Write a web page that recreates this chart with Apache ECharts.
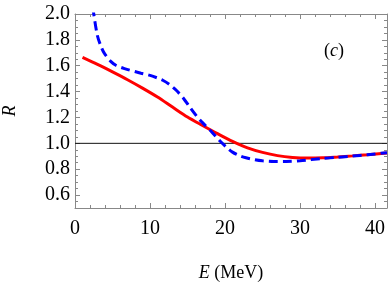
<!DOCTYPE html>
<html>
<head>
<meta charset="utf-8">
<script src="https://cdn.jsdelivr.net/npm/echarts@6/dist/echarts.min.js"></script>
<style>html,body{margin:0;padding:0;background:#fff;}#c{width:392px;height:284px;}</style>
</head>
<body>
<div id="c"></div>
<script>
const xMin = 0, xMax = 41.6, yMin = 0.5, yMax = 2.0;
const yTickLabels = [0.6, 0.8, 1.0, 1.2, 1.4, 1.6, 1.8, 2.0];
const redSolid = [[1, 1.665], [3, 1.61], [5, 1.552], [7, 1.492], [9, 1.427], [11, 1.358], [13, 1.28], [15, 1.203], [17, 1.138], [19, 1.075], [21, 1.015], [23, 0.965], [25, 0.93], [27, 0.905], [29, 0.891], [31, 0.886], [33, 0.888], [35, 0.895], [37, 0.903], [39, 0.912], [41.6, 0.925]];
const blueDashed = [[2.42, 2.05], [2.5, 2.0], [3.0, 1.83], [3.5, 1.745], [3.9, 1.697], [4.8, 1.632], [5.5, 1.602], [6.6, 1.578], [8.8, 1.542], [9.9, 1.527], [11, 1.505], [11.7, 1.488], [12.6, 1.455], [13.5, 1.41], [14.5, 1.345], [15.3, 1.28], [16.2, 1.212], [17, 1.16], [18.2, 1.09], [19.3, 1.02], [20.2, 0.97], [21, 0.932], [22, 0.903], [22.8, 0.888], [24, 0.873], [25, 0.865], [26.5, 0.86], [28.2, 0.86], [30, 0.865], [31.5, 0.874], [33, 0.883], [35, 0.892], [37, 0.902], [39, 0.912], [41.6, 0.928]];
const unityLine = [[xMin, 1.0], [xMax, 1.0]];

const F = 'Liberation Serif';
const frame = '#888888';
const chart = echarts.init(document.getElementById('c'), null, {renderer: 'canvas'});
function yMinorTicks() { const a = []; for (let v = 0.5; v <= 2.0001; v += 0.05) a.push(+v.toFixed(2)); return a; }
const yAxisBase = {type: 'value', min: yMin, max: yMax, splitLine: {show: false}};
chart.setOption({
  animation: false,
  grid: {left: 75, right: 5, top: 14, bottom: 76, containLabel: false, outerBoundsMode: 'none'},
  xAxis: [
    {type: 'value', min: xMin, max: xMax, interval: 10, position: 'bottom',
     axisLine: {lineStyle: {color: frame, width: 1}},
     axisTick: {inside: true, length: 5, lineStyle: {color: frame}},
     minorTick: {show: true, splitNumber: 5, length: 3, lineStyle: {color: frame}},
     axisLabel: {color: '#000', fontFamily: F, fontSize: 20, margin: 11, showMaxLabel: false,
                 formatter: v => (Math.abs(v - Math.round(v)) < 1e-6 && v % 10 === 0) ? String(v) : ''},
     splitLine: {show: false},
     name: '{i|E} (MeV)', nameLocation: 'middle', nameGap: 56,
     nameTextStyle: {color: '#000', fontFamily: F, fontSize: 18, rich: {i: {fontStyle: 'italic', fontFamily: F, fontSize: 18}}}},
    {type: 'value', min: xMin, max: xMax, interval: 10, position: 'top',
     axisLine: {lineStyle: {color: frame, width: 1}},
     axisTick: {inside: true, length: 5, lineStyle: {color: frame}},
     minorTick: {show: true, splitNumber: 5, length: 3, lineStyle: {color: frame}},
     axisLabel: {show: false}, splitLine: {show: false}}
  ],
  yAxis: [
    Object.assign({}, yAxisBase, {position: 'left',
      axisLine: {show: true, lineStyle: {color: frame, width: 1}},
      axisTick: {inside: true, length: 5, customValues: yTickLabels, lineStyle: {color: frame}},
      axisLabel: {customValues: yTickLabels, color: '#000', fontFamily: F, fontSize: 20, margin: 5,
                  formatter: v => v.toFixed(1)},
      name: 'R', nameLocation: 'middle', nameGap: 56, nameRotate: 90,
      nameTextStyle: {color: '#000', fontFamily: F, fontSize: 18, fontStyle: 'italic'}}),
    Object.assign({}, yAxisBase, {position: 'left',
      axisLine: {show: false},
      axisTick: {inside: true, length: 3, customValues: yMinorTicks(), lineStyle: {color: frame}},
      axisLabel: {show: false}}),
    Object.assign({}, yAxisBase, {position: 'right',
      axisLine: {show: true, lineStyle: {color: frame, width: 1}},
      axisTick: {inside: true, length: 5, customValues: yTickLabels, lineStyle: {color: frame}},
      axisLabel: {show: false}}),
    Object.assign({}, yAxisBase, {position: 'right',
      axisLine: {show: false},
      axisTick: {inside: true, length: 3, customValues: yMinorTicks(), lineStyle: {color: frame}},
      axisLabel: {show: false}})
  ],
  graphic: [
    {type: 'text', left: 324, top: 42, style: {text: '({i|c})', fill: '#000', font: '18px "Liberation Serif"',
      rich: {i: {fontStyle: 'italic', fontFamily: F, fontSize: 18}}}}
  ],
  series: [
    {type: 'line', data: unityLine, symbol: 'none', xAxisIndex: 0, yAxisIndex: 0,
     lineStyle: {color: '#111', width: 1}, z: 1},
    {type: 'line', data: redSolid, symbol: 'none', smooth: 0.3, xAxisIndex: 0, yAxisIndex: 0,
     lineStyle: {color: '#ff0000', width: 3}, clip: true, z: 2},
    {type: 'line', data: blueDashed, symbol: 'none', smooth: 0.3, xAxisIndex: 0, yAxisIndex: 0,
     lineStyle: {color: '#0000ff', width: 3, type: [9, 5]}, clip: true, z: 3}
  ]
});
</script>
</body>
</html>
